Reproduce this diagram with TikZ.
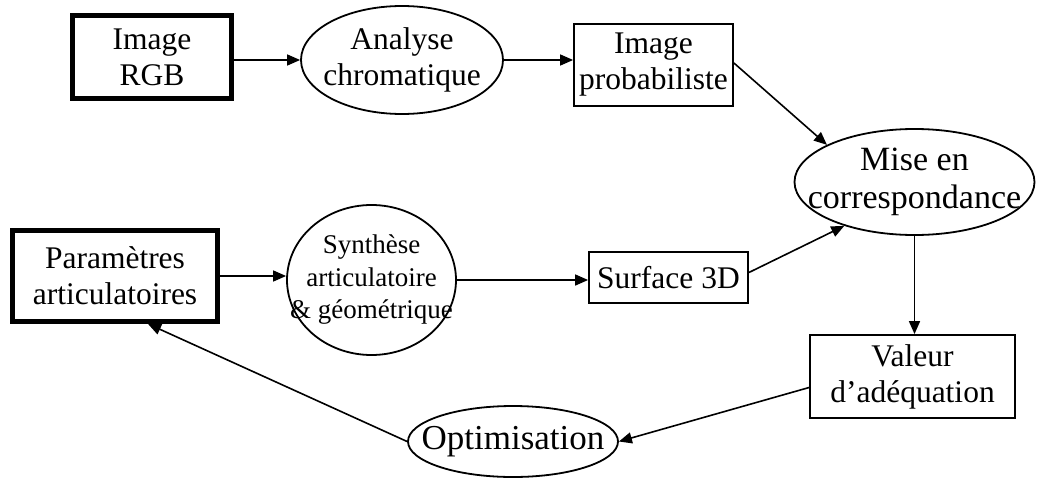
\documentclass[tikz,border=0pt]{standalone}
\usepackage{fontspec}
\setmainfont{Liberation Serif}
\usetikzlibrary{shapes.geometric,arrows.meta}
\tikzset{
  txtfont/.style={font=\fontsize{31.5}{36}\selectfont, align=center},
  thinbox/.style={draw, rectangle, line width=1.8pt, inner sep=0pt, txtfont},
  thickbox/.style={draw, rectangle, line width=4.8pt, inner sep=0pt, txtfont},
  ell/.style={draw, ellipse, line width=1.8pt, inner sep=0pt},
  inlabel/.style={label={[txtfont]center:#1}},
  arr/.style={line width=1.6pt, -{Triangle[length=13pt,width=11pt]}}
}
\begin{document}
\begin{tikzpicture}[x=1pt,y=-1pt]
\useasboundingbox[fill=white] (0,0) rectangle (1038,479);
% nodes
\node[thickbox, minimum width=159pt, minimum height=83pt] (rgb) at (152,57) {Image\\RGB};
\node[ell, minimum width=202pt, minimum height=108pt, inlabel={Analyse\\chromatique}] (analyse) at (402,60) {};
\node[thinbox, minimum width=159pt, minimum height=82pt] (prob) at (653.5,65) {Image\\probabiliste};
\node[ell, minimum width=240pt, minimum height=106pt,
  label={[txtfont, font=\fontsize{34}{38}\selectfont]center:Mise en\\correspondance}] (mise) at (914.5,182) {};
\node[thickbox, minimum width=205pt, minimum height=91pt] (param) at (115,276) {Paramètres\\articulatoires};
\node[ell, minimum width=169pt, minimum height=150pt,
  label={[txtfont, font=\fontsize{27}{32.5}\selectfont]center:Synthèse\\articulatoire\\\& géométrique}] (synth) at (371.5,280) {};
\node[thinbox, minimum width=159pt, minimum height=51pt] (surface) at (668.5,277.5) {Surface 3D};
\node[thinbox, minimum width=205pt, minimum height=83pt] (valeur) at (912.5,376.5) {Valeur\\d’adéquation};
\node[ell, minimum width=210pt, minimum height=71pt,
  label={[txtfont, font=\fontsize{35}{40}\selectfont]center:Optimisation}] (opt) at (513,441.5) {};
% connectors
\draw[arr] (rgb.east |- analyse.west) -- (analyse.west);
\draw[arr] (analyse.east) -- (analyse.east -| prob.west);
\draw[arr] ([yshift=2pt]prob.east) -- (mise.157);
\draw[arr] (param.east) -- (param.east -| synth.west);
\draw[arr] (synth.east) -- (synth.east -| surface.west);
\draw[arr] ([yshift=5pt]surface.east) -- (mise.-148);
\draw[arr] (mise.south) -- (mise.south |- valeur.north);
\draw[arr] ([yshift=-11pt]valeur.west) -- (opt.east);
\draw[arr] (opt.west) -- ([xshift=33pt]param.south);
\end{tikzpicture}
\end{document}
